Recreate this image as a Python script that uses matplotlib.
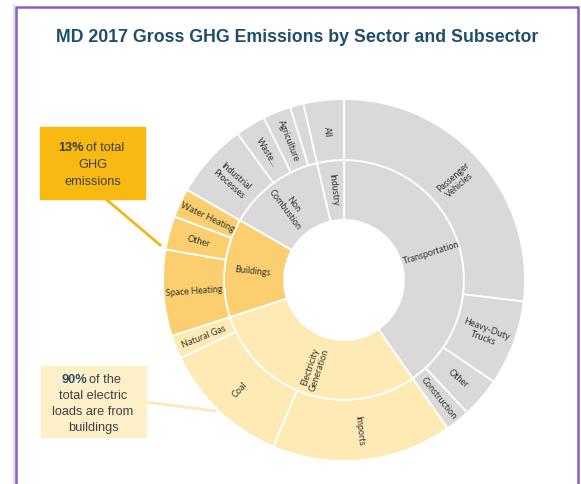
import numpy as np
import matplotlib.pyplot as plt

# data (shares of total, %)
sectors = ['Transportation', 'Electricity\nGeneration', 'Buildings', 'Non\nCombustion', 'Industry']
sector_vals = [40.3, 29.7, 13.3, 13.1, 3.6]
sector_cols = ['#d9d9d9', '#feeab4', '#fbcf6f', '#d9d9d9', '#d9d9d9']

subsectors = ['Passenger\nVehicles', 'Heavy-Duty\nTrucks', 'Other', 'Construction',
              'Imports', 'Coal', 'Natural Gas',
              'Space Heating', 'Other', 'Water Heating',
              'Industrial\nProcesses', 'Waste...', 'Agriculture', '',
              'All']
subsector_vals = [26.9, 7.6, 3.6, 2.2,
                  16.1, 11.5, 2.1,
                  7.7, 3.0, 2.6,
                  6.7, 2.7, 2.5, 1.2,
                  3.6]
subsector_cols = ['#d9d9d9'] * 4 + ['#feeab4'] * 3 + ['#fbcf6f'] * 3 + ['#d9d9d9'] * 5

W, H = 581, 485
fig = plt.figure(figsize=(W / 100, H / 100), dpi=100)
ax = fig.add_axes([0, 0, 1, 1])
ax.set_xlim(0, W)
ax.set_ylim(0, H)
ax.axis('off')

cx, cy = 344, H - 281
r_out, r_mid, r_in = 181, 120, 60

wp = dict(edgecolor='white', linewidth=1.3)
w_in, _ = ax.pie(sector_vals, radius=r_mid, center=(cx, cy), startangle=90,
                 counterclock=False, colors=sector_cols,
                 wedgeprops=dict(width=r_mid - r_in, **wp))
w_out, _ = ax.pie(subsector_vals, radius=r_out, center=(cx, cy), startangle=90,
                  counterclock=False, colors=subsector_cols,
                  wedgeprops=dict(width=r_out - r_mid, **wp))
ax.set_xlim(0, W)
ax.set_ylim(0, H)
ax.set_aspect('auto')


def label_ring(wedges, labels, r):
    for w, lab in zip(wedges, labels):
        if not lab:
            continue
        mid = (w.theta1 + w.theta2) / 2
        x = cx + r * np.cos(np.radians(mid))
        y = cy + r * np.sin(np.radians(mid))
        rot = (mid + 180) % 360 - 180
        if rot > 90 or rot < -90:
            rot += 180
        ax.text(x, y, lab, rotation=rot, rotation_mode='anchor', ha='center', va='center',
                fontsize=6.5, family='Lato', color='#333333', linespacing=1.1)


label_ring(w_in, sectors, (r_in + r_mid) / 2 + 2)
label_ring(w_out, subsectors, (r_mid + r_out) / 2)

# title
ax.text(297, H - 38, 'MD 2017 Gross GHG Emissions by Sector and Subsector',
        ha='center', va='center', fontsize=12.8, weight='bold',
        family='Liberation Sans', color='#1f4e6b')

# callout boxes
ax.plot([107, 160], [H - 201, H - 246], color='#f3b61a', lw=2, zorder=1)
ax.plot([146, 215], [H - 403, H - 412], color='#fbe9bc', lw=2, zorder=1)
ax.add_patch(plt.Rectangle((40, H - 200), 105, 72, color='#f7b912', zorder=2))
ax.add_patch(plt.Rectangle((41, H - 438), 105, 71, color='#fdf0c9', zorder=2))

tk = dict(fontsize=9.2, family='Liberation Sans', va='center', zorder=3)
ax.text(84, H - 148, '13%', ha='right', weight='bold', color='#3a3a3a', **tk)
ax.text(86, H - 148, 'of total', ha='left', color='#404040', **tk)
ax.text(93, H - 165, 'GHG', ha='center', color='#404040', **tk)
ax.text(93, H - 182, 'emissions', ha='center', color='#404040', **tk)

ax.text(87, H - 380, '90%', ha='right', weight='bold', color='#2b4f66', **tk)
ax.text(89, H - 380, 'of the', ha='left', color='#404040', **tk)
ax.text(93, H - 396, 'total electric', ha='center', color='#404040', **tk)
ax.text(93, H - 412, 'loads are from', ha='center', color='#404040', **tk)
ax.text(93, H - 428, 'buildings', ha='center', color='#404040', **tk)

# frame with faint shadow
for off, a in [(3, 0.15), (2, 0.25)]:
    ax.plot([16 - off, 16 - off], [0, H - 8 + off], color='gray', lw=1, alpha=a)
ax.plot([16, 16, 578, 578], [0, H - 8, H - 8, 0], color='#8a5cc4', lw=1.8)

fig.savefig('out.png', dpi=100)
